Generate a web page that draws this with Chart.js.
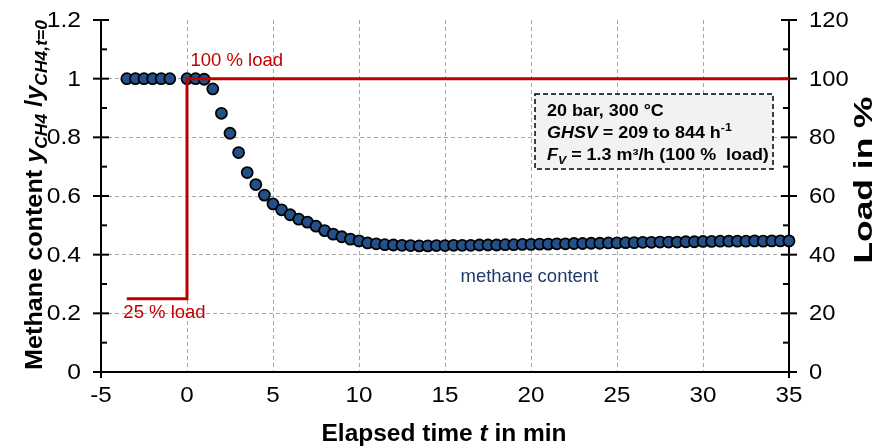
<!DOCTYPE html>
<html>
<head>
<meta charset="utf-8">
<script src="https://cdn.jsdelivr.net/npm/chart.js@4.4.1/dist/chart.umd.min.js"></script>
<style>
  html, body { margin: 0; padding: 0; background: #fff; }
</style>
</head>
<body>
<canvas id="chart" width="875" height="446"></canvas>
<script>
// elapsed time in min (sample every 0.5 min)
const timeMin = [
  -3.5, -3, -2.5, -2, -1.5, -1,
  0, 0.5, 1, 1.5, 2, 2.5, 3, 3.5, 4, 4.5,
  5, 5.5, 6, 6.5, 7, 7.5, 8, 8.5, 9, 9.5,
  10, 10.5, 11, 11.5, 12, 12.5, 13, 13.5, 14, 14.5,
  15, 15.5, 16, 16.5, 17, 17.5, 18, 18.5, 19, 19.5,
  20, 20.5, 21, 21.5, 22, 22.5, 23, 23.5, 24, 24.5,
  25, 25.5, 26, 26.5, 27, 27.5, 28, 28.5, 29, 29.5,
  30, 30.5, 31, 31.5, 32, 32.5, 33, 33.5, 34, 34.5, 35
];
// y_CH4 / y_CH4,t=0
const methaneContent = [
  1.0, 1.0, 1.0, 1.0, 1.0, 1.0,
  1.0, 1.0, 0.998, 0.965, 0.882, 0.814, 0.748, 0.680, 0.639, 0.603,
  0.573, 0.553, 0.536, 0.521, 0.511, 0.497, 0.482, 0.470, 0.461, 0.453,
  0.447, 0.440, 0.437, 0.434, 0.433, 0.432, 0.431, 0.430, 0.430, 0.431,
  0.431, 0.432, 0.432, 0.432, 0.433, 0.433, 0.433, 0.434, 0.434, 0.435,
  0.435, 0.436, 0.436, 0.437, 0.437, 0.438, 0.438, 0.439, 0.439, 0.440,
  0.440, 0.441, 0.441, 0.442, 0.442, 0.443, 0.443, 0.443, 0.444, 0.444,
  0.445, 0.445, 0.446, 0.446, 0.446, 0.446, 0.447, 0.446, 0.447, 0.447, 0.447
];
// load step
const loadTime = [-3.5, 0, 0, 35];
const loadPercent = [25, 25, 100, 100];

const xTicks = [-5, 0, 5, 10, 15, 20, 25, 30, 35];
const yTicks = [0, 0.2, 0.4, 0.6, 0.8, 1, 1.2];
const yMinorTicks = [0.1, 0.3, 0.5, 0.7, 0.9, 1.1];
const loadTicks = [0, 20, 40, 60, 80, 100, 120];
const loadMinorTicks = [10, 30, 50, 70, 90, 110];

const RED = '#C00000';
const BLUE = '#24508A';
const GRID = '#A6A6A6';
const FONT = '"Liberation Sans", Arial, sans-serif';

// draw a run of text pieces, stretched horizontally by sx (or to width fitW)
function drawRich(ctx, segs, x, y, align, sx, fitW) {
  let w = 0;
  segs.forEach(s => { ctx.font = s.font; w += ctx.measureText(s.text).width; });
  const k = fitW ? fitW / w : (sx || 1);
  ctx.save();
  ctx.translate(x, y);
  ctx.scale(k, 1);
  let cx = align === 'center' ? -w / 2 : align === 'right' ? -w : 0;
  segs.forEach(s => {
    ctx.font = s.font;
    ctx.fillText(s.text, cx, s.dy || 0);
    cx += ctx.measureText(s.text).width;
  });
  ctx.restore();
}

const axesPlugin = {
  id: 'axes',
  beforeDatasetsDraw(chart) {
    const { ctx, chartArea: a, scales } = chart;
    ctx.save();
    ctx.strokeStyle = '#000';
    ctx.lineWidth = 2;
    const line = (x1, y1, x2, y2) => { ctx.beginPath(); ctx.moveTo(x1, y1); ctx.lineTo(x2, y2); ctx.stroke(); };
    line(a.left, a.top, a.left, a.bottom + 6);
    line(a.right, a.top, a.right, a.bottom + 6);
    line(a.left, a.bottom, a.right, a.bottom);
    yTicks.forEach(v => { const p = scales.y.getPixelForValue(v); line(a.left - 8, p, a.left + 8, p); });
    yMinorTicks.forEach(v => { const p = scales.y.getPixelForValue(v); line(a.left, p, a.left + 6, p); });
    loadTicks.forEach(v => { const p = scales.y2.getPixelForValue(v); line(a.right - 8, p, a.right + 8, p); });
    loadMinorTicks.forEach(v => { const p = scales.y2.getPixelForValue(v); line(a.right - 6, p, a.right, p); });
    ctx.restore();
  },
  afterDraw(chart) {
    const { ctx, chartArea: a, scales } = chart;
    ctx.save();
    ctx.fillStyle = '#000';
    const tickFont = '22px ' + FONT;

    // tick labels
    ctx.textBaseline = 'middle';
    yTicks.forEach(v => {
      drawRich(ctx, [{ text: String(v), font: tickFont }], a.left - 20, scales.y.getPixelForValue(v) + 1, 'right', 1.12);
    });
    loadTicks.forEach(v => {
      drawRich(ctx, [{ text: String(v), font: tickFont }], a.right + 20, scales.y2.getPixelForValue(v) + 1, 'left', 1.08);
    });
    xTicks.forEach(v => {
      drawRich(ctx, [{ text: String(v), font: tickFont }], scales.x.getPixelForValue(v), a.bottom + 24, 'center', 1.1);
    });

    ctx.textBaseline = 'alphabetic';
    // x title
    drawRich(ctx, [
      { text: 'Elapsed time ', font: 'bold 23px ' + FONT },
      { text: 't', font: 'italic bold 23px ' + FONT },
      { text: ' in min', font: 'bold 23px ' + FONT }
    ], 444, 441, 'center', 1, 245);

    // left title
    ctx.save();
    ctx.translate(42, 195);
    ctx.rotate(-Math.PI / 2);
    drawRich(ctx, [
      { text: 'Methane content ', font: 'bold 23px ' + FONT },
      { text: 'y', font: 'italic bold 23px ' + FONT },
      { text: 'CH4', font: 'italic bold 16px ' + FONT, dy: 5 },
      { text: ' /', font: 'bold 23px ' + FONT },
      { text: 'y', font: 'italic bold 23px ' + FONT },
      { text: 'CH4,t=0', font: 'italic bold 16px ' + FONT, dy: 5 }
    ], 0, 0, 'center', 1, 350);
    ctx.restore();

    // right title
    ctx.save();
    ctx.translate(872, 180);
    ctx.rotate(-Math.PI / 2);
    drawRich(ctx, [{ text: 'Load in %', font: 'bold 26px ' + FONT }], 0, 0, 'center', 1, 167);
    ctx.restore();

    // load labels
    ctx.fillStyle = RED;
    ctx.textBaseline = 'middle';
    const lab = '18.5px ' + FONT;
    drawRich(ctx, [{ text: '100 % load', font: lab }], scales.x.getPixelForValue(0.2), scales.y2.getPixelForValue(106), 'left');
    drawRich(ctx, [{ text: '25 % load', font: lab }], scales.x.getPixelForValue(-3.7), scales.y2.getPixelForValue(20), 'left');

    // series label
    ctx.fillStyle = '#1F3A6E';
    drawRich(ctx, [{ text: 'methane content', font: lab }], scales.x.getPixelForValue(15.9), scales.y.getPixelForValue(0.325), 'left');

    // condition box
    const bx = 535, by = 94, bw = 238, bh = 75;
    ctx.fillStyle = '#F2F2F2';
    ctx.fillRect(bx, by, bw, bh);
    ctx.strokeStyle = '#000';
    ctx.lineWidth = 1.5;
    ctx.setLineDash([5, 3]);
    ctx.strokeRect(bx, by, bw, bh);
    ctx.setLineDash([]);
    ctx.fillStyle = '#000';
    ctx.textBaseline = 'alphabetic';
    const b = 'bold 16px ' + FONT, bi = 'italic bold 16px ' + FONT;
    drawRich(ctx, [{ text: '20 bar, 300 °C', font: b }], 547, 116, 'left', 1.12);
    drawRich(ctx, [
      { text: 'GHSV', font: bi },
      { text: ' = 209 to 844 h', font: b },
      { text: '-1', font: 'bold 11px ' + FONT, dy: -7 }
    ], 547, 138, 'left', 1.12);
    drawRich(ctx, [
      { text: 'F', font: bi },
      { text: 'V', font: 'italic bold 11px ' + FONT, dy: 4 },
      { text: ' = 1.3 m³/h (100 %  load)', font: b }
    ], 547, 160, 'left', 1.12);
    ctx.restore();
  }
};

const gridColor = (edges) => (c) => edges.includes(c.tick.value) ? 'rgba(0,0,0,0)' : GRID;

new Chart(document.getElementById('chart'), {
  type: 'scatter',
  data: {
    datasets: [
      {
        label: 'Load',
        data: loadTime.map((t, i) => ({ x: t, y: loadPercent[i] })),
        yAxisID: 'y2',
        showLine: true,
        borderColor: RED,
        borderWidth: 3,
        pointRadius: 0,
        fill: false,
        clip: false
      },
      {
        label: 'Methane content',
        data: timeMin.map((t, i) => ({ x: t, y: methaneContent[i] })),
        yAxisID: 'y',
        showLine: false,
        pointRadius: 5.5,
        pointBackgroundColor: BLUE,
        pointBorderColor: '#000',
        pointBorderWidth: 1.8,
        clip: false
      }
    ]
  },
  options: {
    responsive: false,
    animation: false,
    layout: { padding: { top: 20, left: 0, right: 0, bottom: 0 } },
    plugins: { legend: { display: false }, tooltip: { enabled: false } },
    scales: {
      x: {
        type: 'linear', min: -5, max: 35,
        afterBuildTicks: s => { s.ticks = xTicks.map(v => ({ value: v })); },
        ticks: { display: false },
        grid: { color: gridColor([-5, 35]), lineWidth: 1, drawTicks: false },
        border: { display: false, dash: [4, 3] },
        afterFit: s => { s.height = 74; }
      },
      y: {
        min: 0, max: 1.2,
        afterBuildTicks: s => { s.ticks = yTicks.map(v => ({ value: v })); },
        ticks: { display: false },
        grid: { color: gridColor([0, 1.2]), lineWidth: 1, drawTicks: false },
        border: { display: false, dash: [4, 3] },
        afterFit: s => { s.width = 101; }
      },
      y2: {
        position: 'right', min: 0, max: 120,
        afterBuildTicks: s => { s.ticks = loadTicks.map(v => ({ value: v })); },
        ticks: { display: false },
        grid: { display: false, drawTicks: false },
        border: { display: false },
        afterFit: s => { s.width = 86; }
      }
    }
  },
  plugins: [axesPlugin]
});
</script>
</body>
</html>
